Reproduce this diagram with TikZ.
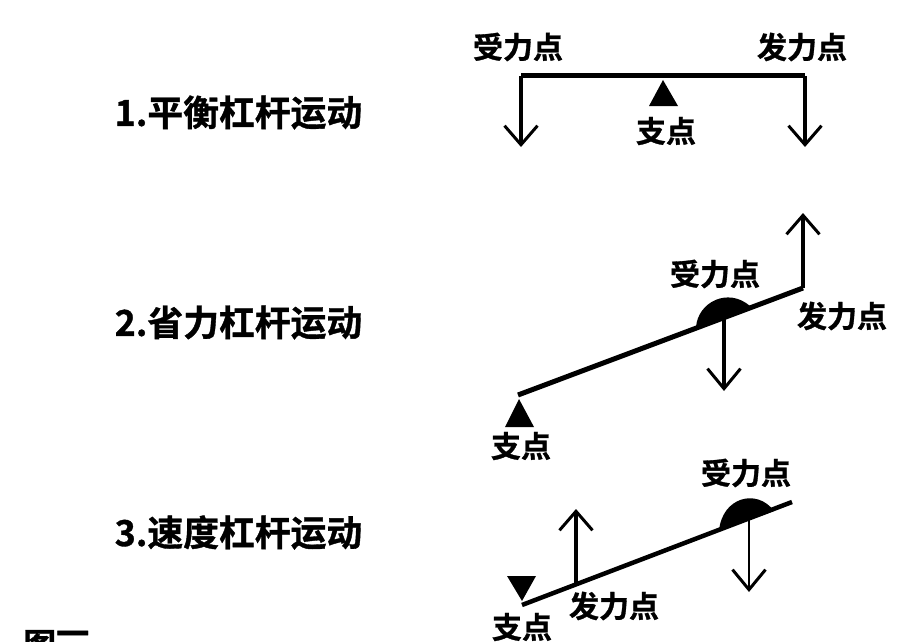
\documentclass[tikz,border=0pt]{standalone}
\usepackage{fontspec}
\setmainfont{Noto Sans CJK SC Bold}[FakeBold=1.0]
\usetikzlibrary{arrows.meta}
\tikzset{
  heading/.style={anchor=west,inner sep=0pt,font=\fontsize{35.8}{36}\selectfont},
  caption/.style={anchor=center,inner sep=0pt,font=\fontsize{30}{30}\selectfont},
  figlabel/.style={anchor=west,inner sep=0pt,font=\fontsize{33}{34}\selectfont},
  lever/.style={line width=5pt,line cap=butt,line join=miter},
  force/.style={line width=3.4pt,-{Straight Barb[length=19pt,width=33pt,line width=3pt]}},
  thinforce/.style={line width=2.6pt,-{Straight Barb[length=20pt,width=33pt,line width=3pt]}},
  mass/.style={fill=black,draw=none},
}
\begin{document}
\begin{tikzpicture}[x=1pt,y=-1pt]
\useasboundingbox (0,0) rectangle (900,642);
\fill[white] (0,0) rectangle (900,642);

% headings
\node[heading] (h1) at (114.5,112.5) {1.平衡杠杆运动};
\node[heading] (h2) at (114.5,322.5) {2.省力杠杆运动};
\node[heading] (h3) at (114.5,532.5) {3.速度杠杆运动};
\node[figlabel] (fig) at (23,645) {图\raisebox{11pt}{一}};

% lever 1
\coordinate (a1) at (521,76);
\coordinate (b1) at (805,76);
\coordinate (a1t) at (521,147);
\coordinate (b1t) at (805,147);
\draw[lever,line cap=square] (a1) -- (b1);
\draw[force] (a1) -- (a1t);
\draw[force] (b1) -- (b1t);
\fill[mass] (663,80) -- (678,106) -- (649,106) -- cycle;
\node[caption] (l1a) at (518,47) {受力点};
\node[caption] (l1b) at (802,47) {发力点};
\node[caption] (l1c) at (666,131) {支点};

% lever 2
\coordinate (a2) at (518,395);
\coordinate (b2) at (803,288);
\coordinate (b2t) at (803,213);
\coordinate (c2) at (724,318);
\coordinate (c2t) at (724,391);
\draw[lever] (a2) -- (b2);
\draw[force] (b2) -- (b2t);
\draw[line width=4pt,-{Straight Barb[length=20pt,width=33pt,line width=3pt]}] (c2) -- (c2t);
\fill[mass] (696,327) .. controls (698,302) and (728,287) .. (750,306) -- cycle;
\fill[mass] (505,427) -- (534,427) -- (519,399) -- cycle;
\node[caption] (l2a) at (715,274) {受力点};
\node[caption] (l2b) at (842,316) {发力点};
\node[caption] (l2c) at (521,446) {支点};

% lever 3
\coordinate (a3) at (522,605);
\coordinate (b3) at (792,502);
\coordinate (d3) at (576,585);
\coordinate (d3t) at (576,509);
\coordinate (c3) at (749,518);
\coordinate (c3t) at (749,592);
\draw[lever,line width=4.5pt] (a3) -- (b3);
\draw[force] (d3) -- (d3t);
\draw[thinforce] (c3) -- (c3t);
\fill[mass] (719,531) .. controls (722,497) and (757,488) .. (774,511) -- cycle;
\fill[mass] (507,576) -- (536,576) -- (522,601) -- cycle;
\node[caption] (l3a) at (746,473) {受力点};
\node[caption] (l3b) at (614,606) {发力点};
\node[caption] (l3c) at (522,627) {支点};
\end{tikzpicture}
\end{document}
